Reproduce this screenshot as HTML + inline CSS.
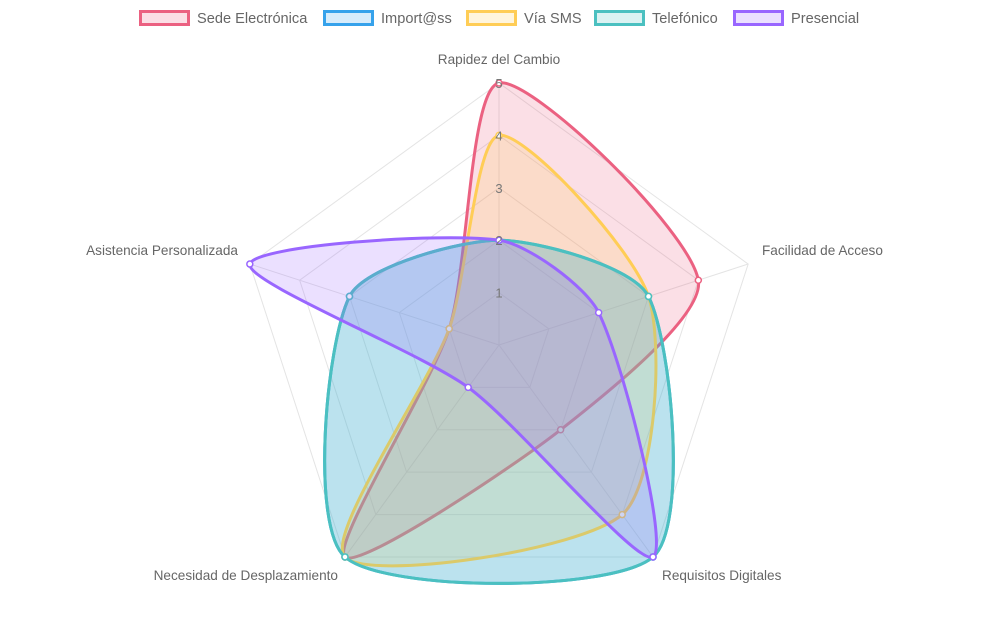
<!DOCTYPE html>
<html><head><meta charset="utf-8"><style>
body{margin:0;background:#fff;font-family:"Liberation Sans",Arial,sans-serif}
svg{display:block}
</style></head><body>
<svg id="c" width="1000" height="625" xmlns="http://www.w3.org/2000/svg"></svg>
<script>
const labels=["Rapidez del Cambio","Facilidad de Acceso","Requisitos Digitales","Necesidad de Desplazamiento","Asistencia Personalizada"];
const seriesNames=["Sede Electrónica","Import@ss","Vía SMS","Telefónico","Presencial"];
const sede=[5,4,2,5,1];
const importass=[2,3,5,5,3];
const sms=[4,3,4,5,1];
const telefonico=[2,3,5,5,3];
const presencial=[2,2,5,1,5];
const ticks=["1","2","3","4","5"];
const colors=["235,97,129","54,162,235","255,205,86","75,192,192","153,102,255"];
const all=[sede,importass,sms,telefonico,presencial];
const NS="http://www.w3.org/2000/svg";
const svg=document.getElementById('c');
const cx=499,cy=345,R=262,maxV=5;
function pt(i,v){const a=-Math.PI/2+i*2*Math.PI/labels.length;const r=R*v/maxV;return [cx+r*Math.cos(a),cy+r*Math.sin(a)];}
function mk(tag,attrs){const e=document.createElementNS(NS,tag);for(const k in attrs)e.setAttribute(k,attrs[k]);svg.appendChild(e);return e;}
for(let l=1;l<=maxV;l++){
  const p=labels.map((_,i)=>pt(i,l).join(',')).join(' ');
  const g=mk('polygon',{points:p,fill:'none',stroke:'#e4e4e4','stroke-width':1});
  
  
}
labels.forEach((lb,i)=>{
  const [x,y]=pt(i,maxV);
  const ln=mk('line',{x1:cx,y1:cy,x2:x,y2:y,stroke:'#e4e4e4','stroke-width':1});
  
  
});
function spline(vals,t){
  const P=vals.map((v,i)=>pt(i,v));const n=P.length;const cps=[];
  for(let i=0;i<n;i++){
    const a=P[(i-1+n)%n],b=P[i],c=P[(i+1)%n];
    const d01=Math.hypot(b[0]-a[0],b[1]-a[1]),d12=Math.hypot(c[0]-b[0],c[1]-b[1]);
    let s01=d01/(d01+d12||1),s12=d12/(d01+d12||1);
    const fa=t*s01,fb=t*s12;
    cps.push({prev:[b[0]-fa*(c[0]-a[0]),b[1]-fa*(c[1]-a[1])],next:[b[0]+fb*(c[0]-a[0]),b[1]+fb*(c[1]-a[1])]});
  }
  let d='M'+P[0].join(',');
  for(let i=0;i<n;i++){const j=(i+1)%n;d+=' C'+cps[i].next.join(',')+' '+cps[j].prev.join(',')+' '+P[j].join(',');}
  return {d:d+'Z',P};
}
all.forEach((vals,k)=>{
  const s=spline(vals,0.25);
  const p=mk('path',{d:s.d,fill:'rgba('+colors[k]+',0.2)',stroke:'rgb('+colors[k]+')','stroke-width':3});
  
  
  s.P.forEach(q=>{
    const c=mk('circle',{cx:q[0],cy:q[1],r:3,fill:'#fff',stroke:'rgb('+colors[k]+')','stroke-width':1.5});
    
    
  });
});
ticks.forEach((t,i)=>{
  const [x,y]=pt(0,i+1);
  const e=mk('text',{x:x,y:y+5,'text-anchor':'middle','font-size':13,fill:'#777'});e.textContent=t;
  
  
});
const lpos=[[499,64,'middle'],[762,255,'start'],[662,580,'start'],[338,580,'end'],[238,255,'end']];
labels.forEach((lb,i)=>{
  const e=mk('text',{x:lpos[i][0],y:lpos[i][1],'text-anchor':lpos[i][2],'font-size':13.6,fill:'#666'});e.textContent=lb;
  
  
});
const lx=[139,323,466,594,733];
seriesNames.forEach((n,k)=>{
  const r=mk('rect',{x:lx[k]+1.5,y:11.5,width:48,height:13,fill:'rgba('+colors[k]+',0.2)',stroke:'rgb('+colors[k]+')','stroke-width':3});
  
  
  const t=mk('text',{x:lx[k]+58,y:23,'font-size':14.6,fill:'#666'});t.textContent=n;
  
  
});
</script>
</body></html>
